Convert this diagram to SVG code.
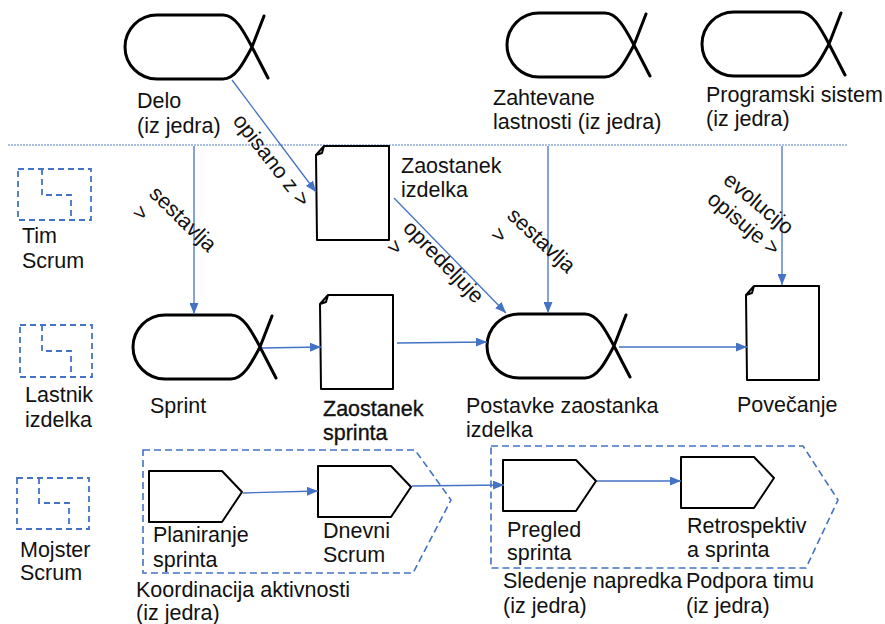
<svg xmlns="http://www.w3.org/2000/svg" width="885" height="624" viewBox="0 0 885 624">
<defs>
<style>
text{font-family:"Liberation Sans",Arial,sans-serif;font-size:21.5px;fill:#111}
.heavy{stroke:#111;stroke-width:0.35}
.alpha{fill:none;stroke:#000;stroke-width:3;stroke-linecap:round;stroke-linejoin:round}
.doc{fill:#fff;stroke:#000;stroke-width:2;stroke-linejoin:round}
.act{fill:#fff;stroke:#000;stroke-width:2;stroke-linejoin:round}
.conn{fill:none;stroke:#4472C4;stroke-width:1.3}
.area{fill:none;stroke:#4472C4;stroke-width:1.6;stroke-dasharray:7 4}
.actor{fill:none;stroke:#4472C4;stroke-width:1.8;stroke-dasharray:6 4}
.sep{stroke:#4472C4;stroke-width:0.9;stroke-dasharray:2 1}
</style>
<marker id="ah" markerUnits="userSpaceOnUse" markerWidth="11" markerHeight="9" refX="11" refY="4.5" orient="auto"><path d="M0,0 L11,4.5 L0,9 Z" fill="#4472C4"/></marker>
<path id="alphaShape" d="M32,0 L98,0 C110,0 118,15 127,32 L143,63 M32,64 L98,64 C110,64 118,49 127,32 L139,1 M32,0 A32,32 0 0 0 32,64"/>
<path id="docShape" d="M8,0 L73,0 L73,94 L1,94 L0,9 Z M0,9 L6,7 L8,0 Z"/>
<path id="actShape" d="M0,0 L73,0 L93,21 L73,51 L0,51 Z"/>
</defs>
<rect width="885" height="624" fill="#fff"/>
<line class="sep" x1="8" y1="145" x2="848" y2="145"/>

<g id="actor-tim">
<rect class="actor" x="18" y="169" width="73" height="51"/>
<path class="actor" d="M42,169 L42,195 L71,195 L71,220"/>
<text x="22" y="243">Tim</text><text x="22" y="268">Scrum</text>
</g>
<g id="actor-lastnik">
<rect class="actor" x="20" y="325" width="72" height="52"/>
<path class="actor" d="M42,325 L42,351 L71,351 L71,377"/>
<text x="25" y="402">Lastnik</text><text x="25" y="427">izdelka</text>
</g>
<g id="actor-mojster">
<rect class="actor" x="17" y="478" width="72" height="51"/>
<path class="actor" d="M39,478 L39,503 L69,503 L69,529"/>
<text x="20" y="557">Mojster</text><text x="20" y="580">Scrum</text>
</g>

<g id="area-koordinacija">
<path class="area" d="M143,450 L415,450 L451,500 L413,573 L143,573 Z"/>
<text x="136" y="597">Koordinacija aktivnosti</text><text x="136" y="620">(iz jedra)</text>
</g>
<g id="area-sledenje">
<path class="area" d="M491,446 L803,446 L838,500 L806,568 L491,568 Z"/>
<text x="503" y="588">Sledenje napredka</text><text x="503" y="613">(iz jedra)</text>
<text x="686" y="588">Podpora timu</text><text x="686" y="613">(iz jedra)</text>
</g>

<g id="alpha-delo">
<use href="#alphaShape" class="alpha" x="125" y="15"/>
<text x="137" y="108">Delo</text><text x="137" y="133">(iz jedra)</text>
</g>
<g id="alpha-zahtevane">
<use href="#alphaShape" class="alpha" x="507" y="13"/>
<text x="493" y="105">Zahtevane</text><text x="493" y="129">lastnosti (iz jedra)</text>
</g>
<g id="alpha-programski">
<use href="#alphaShape" class="alpha" x="702" y="12"/>
<text x="706" y="102">Programski sistem</text><text x="706" y="126">(iz jedra)</text>
</g>
<g id="alpha-sprint">
<use href="#alphaShape" class="alpha" x="133" y="315"/>
<text x="150" y="413">Sprint</text>
</g>
<g id="alpha-postavke">
<use href="#alphaShape" class="alpha" x="487" y="314"/>
<text x="466" y="413">Postavke zaostanka</text><text x="466" y="437">izdelka</text>
</g>

<g id="doc-zaostanek-izdelka">
<use href="#docShape" class="doc" x="316" y="146"/>
<text x="401" y="173">Zaostanek</text><text x="401" y="197">izdelka</text>
</g>
<g id="doc-zaostanek-sprinta">
<use href="#docShape" class="doc" x="320" y="295"/>
<text class="heavy" x="323" y="416">Zaostanek</text><text class="heavy" x="323" y="440">sprinta</text>
</g>
<g id="doc-povecanje">
<use href="#docShape" class="doc" x="746" y="286"/>
<text x="737" y="412">Povečanje</text>
</g>

<g id="act-planiranje">
<use href="#actShape" class="act" x="149" y="471"/>
<text x="153" y="542">Planiranje</text><text x="153" y="567">sprinta</text>
</g>
<g id="act-dnevni">
<use href="#actShape" class="act" x="318" y="466"/>
<text x="323" y="538">Dnevni</text><text x="323" y="562">Scrum</text>
</g>
<g id="act-pregled">
<use href="#actShape" class="act" x="503" y="460"/>
<text x="507" y="537">Pregled</text><text x="507" y="560">sprinta</text>
</g>
<g id="act-retro">
<use href="#actShape" class="act" x="681" y="457"/>
<text x="687" y="533">Retrospektiv</text><text x="687" y="557">a sprinta</text>
</g>

<g id="connectors">
<path class="conn" marker-end="url(#ah)" d="M232,80 L316,192"/>
<path class="conn" marker-end="url(#ah)" d="M194,146 L194,314"/>
<path class="conn" marker-end="url(#ah)" d="M548,146 L548,313"/>
<path class="conn" marker-end="url(#ah)" d="M782,146 L782,285"/>
<path class="conn" marker-end="url(#ah)" d="M394,198 L506,313"/>
<path class="conn" marker-end="url(#ah)" d="M262,348 L321,347"/>
<path class="conn" marker-end="url(#ah)" d="M397,343 L487,342"/>
<path class="conn" marker-end="url(#ah)" d="M619,347 L747,347"/>
<path class="conn" marker-end="url(#ah)" d="M243,493 L318,491"/>
<path class="conn" marker-end="url(#ah)" d="M412,486 L504,485"/>
<path class="conn" marker-end="url(#ah)" d="M597,481 L681,481"/>
<text transform="translate(232,121) rotate(52)">opisano z &gt;</text>
<text transform="translate(148,195) rotate(44)"><tspan x="0" y="0">sestavlja</tspan><tspan x="1" y="25">&gt;</tspan></text>
<text transform="translate(506,217) rotate(43)"><tspan x="0" y="0">sestavlja</tspan><tspan x="1" y="25">&gt;</tspan></text>
<text transform="translate(402,229) rotate(46)"><tspan x="0" y="0">opredeljuje</tspan><tspan x="2" y="25">&gt;</tspan></text>
<text transform="translate(722,182) rotate(40)"><tspan x="0" y="0">evolucijo</tspan><tspan x="0" y="25">opisuje &gt;</tspan></text>
</g>
</svg>
